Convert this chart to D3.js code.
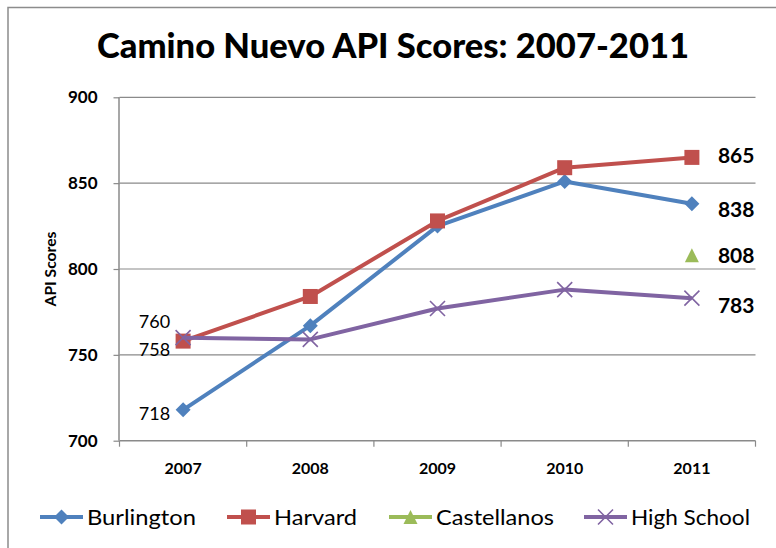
<!DOCTYPE html>
<html><head><meta charset="utf-8">
<script src="https://cdn.jsdelivr.net/npm/d3@7"></script>
<style>html,body{margin:0;padding:0;background:#fff}svg{display:block}text{font-family:Lato,"Open Sans",sans-serif}</style>
</head><body>
<svg id="c" width="776" height="548"></svg>
<script>
const years = ["2007","2008","2009","2010","2011"];
const burlington = [718, 767, 825, 851, 838];
const harvard = [758, 784, 828, 859, 865];
const castellanos = [null, null, null, null, 808];
const highSchool = [760, 759, 777, 788, 783];
const yTicks = [700, 750, 800, 850, 900];
const seriesNames = ["Burlington","Harvard","Castellanos","High School"];
const seriesColors = ["#4F81BD","#C0504D","#9BBB59","#8064A2"];
const seriesMarkers = ["diamond","square","triangle","x"];
const seriesData = [burlington, harvard, castellanos, highSchool];
const firstLabelDy = [4, 9, 0, -16];
const lastLabelDy = [6, -2, 0, 7];

const svg = d3.select("#c");
const W = 776, H = 548;
const m = {l:119.5, r:755.5, t:97.3, b:440.7};

svg.append("path").attr("d", `M8,${H+2} L8,7.5 L${W+2},7.5`).attr("fill","none").attr("stroke","#8c8c8c").attr("stroke-width",1.5);

const x = d3.scaleBand().domain(years).range([m.l, m.r]);
const y = d3.scaleLinear().domain([700, 900]).range([m.b, m.t]);

svg.append("g").selectAll("line").data(yTicks.filter(d=>d>700)).join("line")
  .attr("x1", m.l).attr("x2", m.r).attr("y1", d=>y(d)).attr("y2", d=>y(d))
  .attr("stroke","#8a8a8a").attr("stroke-width",1.2);

const ya = svg.append("g").attr("transform",`translate(${m.l},0)`)
  .call(d3.axisLeft(y).tickValues(yTicks).tickSize(6).tickPadding(16).tickFormat(d3.format("d")));
ya.select(".domain").attr("stroke","#8a8a8a").attr("stroke-width",1.5).attr("d",`M-0.5,${m.t}V${m.b}`);
ya.selectAll(".tick line").attr("stroke","#8a8a8a").attr("stroke-width",1.2);
ya.selectAll(".tick text").attr("font-size",17).attr("font-weight","bold").attr("fill","#000").attr("font-family","Lato");

const xa = svg.append("g").attr("transform",`translate(0,${m.b})`)
  .call(d3.axisBottom(x).tickSize(0).tickPadding(22));
xa.select(".domain").attr("stroke","#8a8a8a").attr("stroke-width",1.5).attr("d",`M${m.l},0H${m.r}`);
xa.selectAll(".tick text").attr("font-size",16).attr("font-weight","bold").attr("fill","#000").attr("font-family","Lato");
const bounds = years.map(d=>x(d)).concat([m.r]);
xa.append("g").selectAll("line").data(bounds).join("line")
  .attr("x1", d=>d).attr("x2", d=>d).attr("y1",0).attr("y2",6)
  .attr("stroke","#8a8a8a").attr("stroke-width",1.2);

const cx = d => x(d) + x.bandwidth()/2;

svg.append("text").attr("transform",`translate(56,${(m.t+m.b)/2}) rotate(-90)`)
  .attr("text-anchor","middle").attr("font-size",16).attr("font-weight","bold")
  .attr("textLength",75).attr("lengthAdjust","spacingAndGlyphs").text("API Scores");

svg.append("text").attr("x", 393).attr("y", 58).attr("text-anchor","middle")
  .attr("font-size",35).attr("font-weight",900).attr("textLength",592).attr("lengthAdjust","spacingAndGlyphs")
  .text("Camino Nuevo API Scores: 2007-2011");

function marker(g, type, color, px, py, s) {
  if (type==="diamond") {
    const h = s/2 + 0.5;
    g.append("path").attr("d",`M${px},${py-h}L${px+h},${py}L${px},${py+h}L${px-h},${py}Z`).attr("fill",color);
  } else if (type==="square") {
    g.append("rect").attr("x",px-s/2).attr("y",py-s/2).attr("width",s).attr("height",s).attr("fill",color);
  } else if (type==="triangle") {
    g.append("path").attr("d",`M${px},${py-s/2}L${px+s/2},${py+s/2}L${px-s/2},${py+s/2}Z`).attr("fill",color);
  } else {
    const h = s/2;
    g.append("path").attr("d",`M${px-h},${py-h}L${px+h},${py+h}M${px-h},${py+h}L${px+h},${py-h}`)
      .attr("stroke",color).attr("stroke-width",1.6).attr("fill","none");
  }
}

const line = d3.line().defined(d=>d.v!=null).x(d=>cx(d.k)).y(d=>y(d.v));
const sizes = [14, 15, 14, 15];
seriesData.forEach((vals, i) => {
  const pts = years.map((k,j)=>({k, v: vals[j]}));
  const g = svg.append("g");
  g.append("path").datum(pts).attr("d", line).attr("fill","none")
    .attr("stroke", seriesColors[i]).attr("stroke-width",4).attr("stroke-linejoin","round");
  pts.filter(p=>p.v!=null).forEach(p => marker(g, seriesMarkers[i], seriesColors[i], cx(p.k), y(p.v), sizes[i]));
  if (vals[0]!=null) {
    g.append("text").attr("x", cx(years[0]) - 13).attr("y", y(vals[0]) + firstLabelDy[i])
      .attr("dy","0.35em").attr("text-anchor","end").attr("font-size",18).attr("fill","#000").text(vals[0]);
  }
  const lv = vals[vals.length-1];
  g.append("text").attr("x", cx(years[4]) + 26).attr("y", y(lv) + lastLabelDy[i])
    .attr("dy","0.35em").attr("text-anchor","start").attr("font-size",21).attr("font-weight","bold").attr("fill","#000").text(lv);
});

const legendX = [40, 227, 389, 584];
const legendW = [109, 83, 118, 119];
const lg = svg.append("g").attr("transform","translate(0,517)");
seriesNames.forEach((n,i) => {
  const g = lg.append("g");
  g.append("line").attr("x1",legendX[i]).attr("x2",legendX[i]+43).attr("y1",0).attr("y2",0)
    .attr("stroke",seriesColors[i]).attr("stroke-width",4);
  marker(g, seriesMarkers[i], seriesColors[i], legendX[i]+21.5, 0, sizes[i]);
  g.append("text").attr("x",legendX[i]+47).attr("y",0).attr("dy","0.35em").attr("font-size",22)
    .attr("textLength",legendW[i]).attr("lengthAdjust","spacingAndGlyphs").attr("fill","#000").text(n);
});
</script>
</body></html>
